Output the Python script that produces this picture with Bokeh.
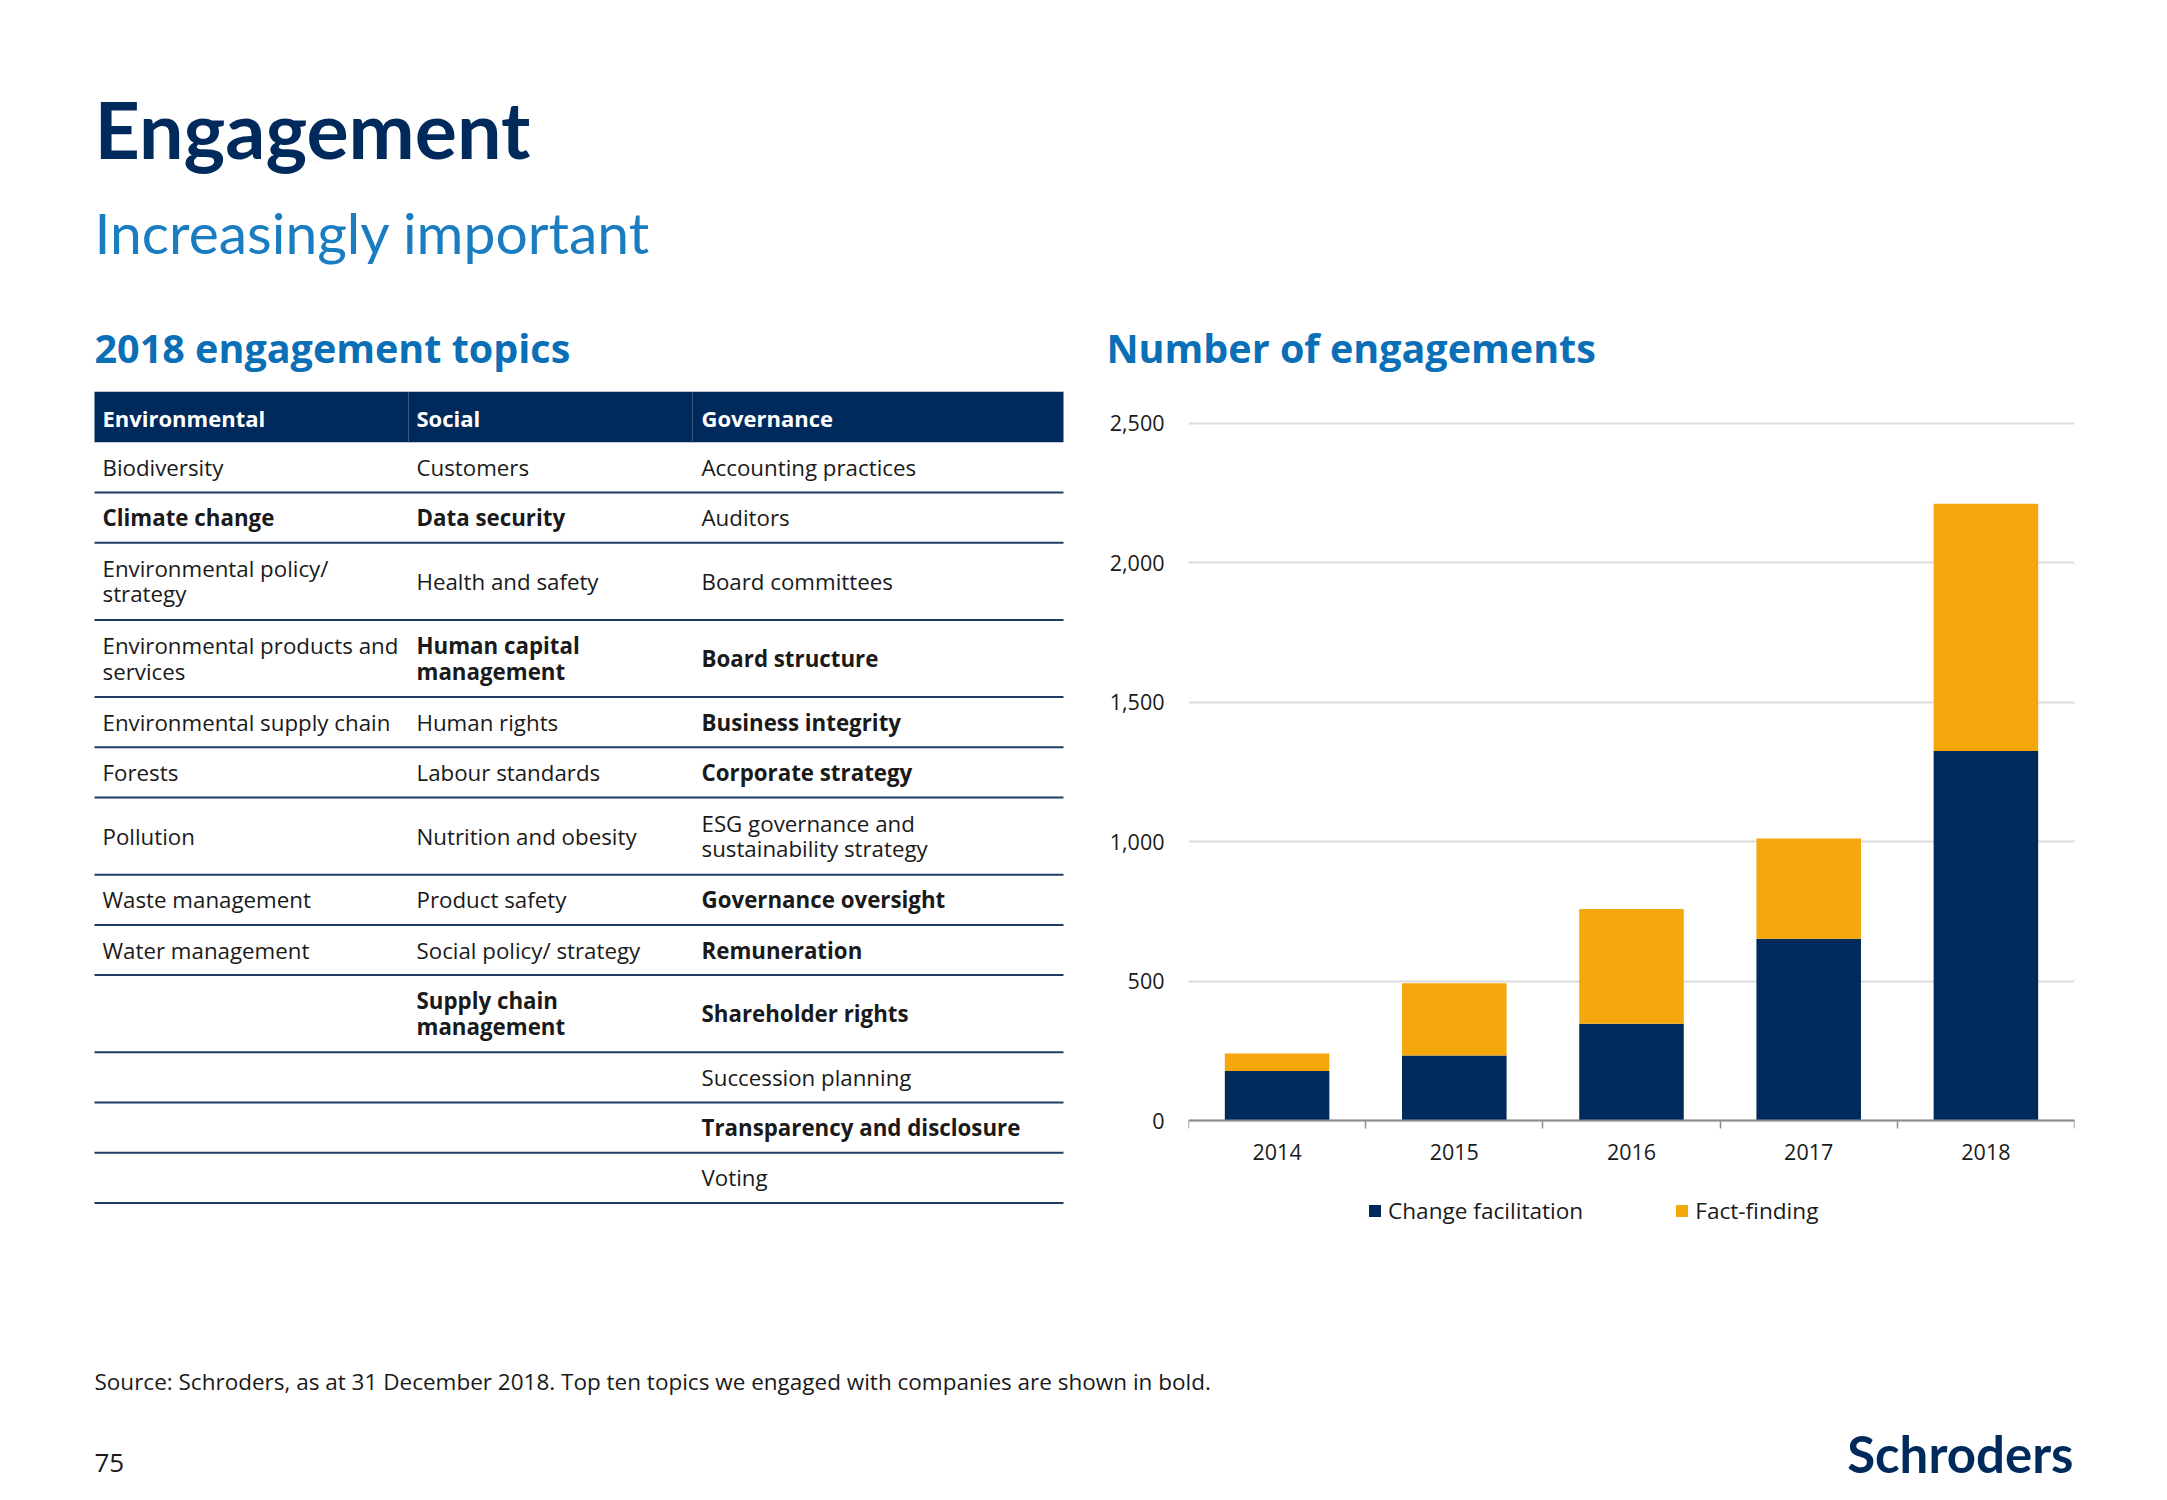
from bokeh.plotting import figure
from bokeh.layouts import column, row
from bokeh.models import (ColumnDataSource, Range1d, FixedTicker, NumeralTickFormatter,
                          Legend, LegendItem)
from bokeh.core.properties import value, field
from bokeh.embed import file_html
from bokeh.resources import INLINE

# ---------------- data ----------------
years = ["2014", "2015", "2016", "2017", "2018"]
change_facilitation = [177, 233, 347, 651, 1324]
fact_finding = [63, 259, 411, 360, 887]
y_ticks = [0, 500, 1000, 1500, 2000, 2500]
series_names = ["Change facilitation", "Fact-finding"]

table_headers = ["Environmental", "Social", "Governance"]
environmental = ["Biodiversity", "Climate change", "Environmental policy/\nstrategy",
                 "Environmental products and\nservices", "Environmental supply chain", "Forests",
                 "Pollution", "Waste management", "Water management", "", "", "", ""]
social = ["Customers", "Data security", "Health and safety", "Human capital\nmanagement",
          "Human rights", "Labour standards", "Nutrition and obesity", "Product safety",
          "Social policy/ strategy", "Supply chain\nmanagement", "", "", ""]
governance = ["Accounting practices", "Auditors", "Board committees", "Board structure",
              "Business integrity", "Corporate strategy", "ESG governance and\nsustainability strategy",
              "Governance oversight", "Remuneration", "Shareholder rights", "Succession planning",
              "Transparency and disclosure", "Voting"]
bold_topics = ["Climate change", "Data security", "Human capital\nmanagement", "Board structure",
               "Business integrity", "Corporate strategy", "Governance oversight", "Remuneration",
               "Supply chain\nmanagement", "Shareholder rights", "Transparency and disclosure"]

title_text = "Engagement"
subtitle_text = "Increasingly important"
left_heading = "2018 engagement topics"
right_heading = "Number of engagements"
source_text = "Source: Schroders, as at 31 December 2018. Top ten topics we engaged with companies are shown in bold."
page_number = "75"
logo_text = "Schroders"

# ---------------- styles / layout ----------------
NAVY = "#002a5c"
ORANGE = "#f5a80c"
BLUE = "#0a6fb6"
BLUE_LIGHT = "#1a7cc1"
TEXT = "#1a1a1a"
AXIS_GRAY = "#8c8c8c"
GRID_GRAY = "#dcdcdc"
RULE = "#203c63"
BODY_FONT = value("Open Sans")
HEAD_FONT = value("Lato")

PAGE_W = 2160
HEAD_H = 380
MID_TOP, MID_BOT = 380, 1240
FOOT_BOT = 1490


def blank(width, x0, x1, y_top, y_bottom):
    f = figure(width=width, height=int(y_bottom - y_top), x_range=Range1d(x0, x1),
               y_range=Range1d(y_bottom, y_top), title=None,
               output_backend="svg", toolbar_location=None, x_axis_type=None, y_axis_type=None,
               min_border=0, min_border_left=0, min_border_right=0, min_border_top=0, min_border_bottom=0)
    f.outline_line_color = None
    f.grid.visible = False
    return f


# ---------------- header ----------------
header = blank(PAGE_W, 0, PAGE_W, 0, HEAD_H)
header.text(x=[94], y=[127.5], text=[title_text], text_font=HEAD_FONT, text_font_size="79px",
            text_font_style="bold", text_color=NAVY, text_baseline="middle")
header.text(x=[94], y=[231], text=[subtitle_text], text_font=HEAD_FONT, text_font_size="57px",
            text_color=BLUE_LIGHT, text_baseline="middle")
header.text(x=[94, 1106], y=[347, 347], text=[left_heading, right_heading], text_font=BODY_FONT,
            text_font_size="39.5px", text_font_style="bold", text_color=BLUE, text_baseline="middle")

# ---------------- table ----------------
TAB_W = 1090
table = blank(TAB_W, 0, TAB_W, MID_TOP, MID_BOT)
tx0, tx1 = 94, 1063
col_x = [102, 416, 701]
sep_x = [408, 692]
top = 391.3
head_h = 50.5
single_h, double_h = 50.2, 77.2

table.quad(left=[tx0], right=[tx1], top=[top], bottom=[top + head_h], fill_color=NAVY, line_color=None)
table.segment(x0=sep_x, x1=sep_x, y0=[top] * 2, y1=[top + head_h] * 2, line_color="#3d5a84", line_width=1)
table.text(x=col_x, y=[top + head_h / 2 + 1] * 3, text=table_headers, text_font=BODY_FONT,
           text_font_size="22px", text_font_style="bold", text_color="white", text_baseline="middle")

cells = dict(x=[], y=[], text=[], style=[])
line_y = []
y = top + head_h
for e, s, g in zip(environmental, social, governance):
    h = double_h if any("\n" in c for c in (e, s, g)) else single_h
    for cx, c in zip(col_x, (e, s, g)):
        if c:
            cells["x"].append(cx)
            cells["y"].append(y + h / 2)
            cells["text"].append(c)
            cells["style"].append("bold" if c in bold_topics else "normal")
    y += h
    line_y.append(y)

table.text(x="x", y="y", text="text", source=ColumnDataSource(cells), text_font=BODY_FONT,
           text_font_size="22.3px", text_font_style=field("style"), text_color=TEXT,
           text_baseline="middle", text_line_height=0.82)
table.segment(x0=[tx0] * len(line_y), x1=[tx1] * len(line_y), y0=line_y, y1=line_y,
              line_color=RULE, line_width=2)

# ---------------- chart ----------------
CH_X0 = TAB_W
FRAME_L, FRAME_R = 1188, 2074
AXIS_PX, TOP_TICK_PX = 1120, 422.5          # pixel rows of value 0 and of the top tick
k = (AXIS_PX - TOP_TICK_PX) / y_ticks[-1]    # px per unit
y_lo = -(MID_BOT - AXIS_PX) / k
y_hi = (AXIS_PX - MID_TOP) / k

n = len(years)
centers = [i + 0.5 for i in range(n)]
src = ColumnDataSource(dict(x=centers, year=years, cf=change_facilitation, ff=fact_finding))

p = figure(width=PAGE_W - CH_X0, height=MID_BOT - MID_TOP, x_range=Range1d(0, n),
           y_range=Range1d(y_lo, y_hi), title=None,
           output_backend="svg", toolbar_location=None,
           min_border_left=FRAME_L - CH_X0, min_border_right=PAGE_W - FRAME_R,
           min_border_top=0, min_border_bottom=0)
p.outline_line_color = None
rs = p.vbar_stack(["cf", "ff"], x="x", width=0.59, color=[NAVY, ORANGE], line_color=None, source=src)

yt = FixedTicker(ticks=y_ticks)
p.yaxis.ticker = yt
p.ygrid.ticker = yt
p.ygrid.grid_line_color = GRID_GRAY
p.ygrid.grid_line_width = 2
p.xgrid.visible = False
p.yaxis.formatter = NumeralTickFormatter(format="0,0")
p.yaxis.axis_line_color = None
p.yaxis.major_tick_line_color = None
p.yaxis.minor_tick_line_color = None
p.yaxis.major_tick_out = 0
p.yaxis.major_label_standoff = 24
p.yaxis.major_label_text_font = "Open Sans"
p.yaxis.major_label_text_font_size = "21.5px"
p.yaxis.major_label_text_color = TEXT

p.xaxis.fixed_location = 0
p.xaxis.ticker = FixedTicker(ticks=centers, minor_ticks=list(range(n + 1)))
p.xaxis.major_label_overrides = {c: yr for c, yr in zip(centers, years)}
p.xaxis.major_tick_line_color = None
p.xaxis.major_tick_out = 0
p.xaxis.major_tick_in = 0
p.xaxis.minor_tick_in = 0
p.xaxis.minor_tick_out = 8
p.xaxis.minor_tick_line_color = AXIS_GRAY
p.xaxis.minor_tick_line_width = 1.5
p.xaxis.axis_line_color = AXIS_GRAY
p.xaxis.axis_line_width = 2
p.xaxis.major_label_standoff = 15
p.xaxis.major_label_text_font = "Open Sans"
p.xaxis.major_label_text_font_size = "21.5px"
p.xaxis.major_label_text_color = TEXT

legend = Legend(items=[LegendItem(label=series_names[0], renderers=[rs[0]]),
                       LegendItem(label=series_names[1], renderers=[rs[1]])],
                orientation="horizontal", location=(1367 - FRAME_L, 14), padding=0, margin=0, spacing=91,
                label_standoff=6, glyph_width=15, glyph_height=15,
                label_text_font="Open Sans", label_text_font_size="22.6px", label_text_color=TEXT,
                border_line_color=None, background_fill_alpha=0)
p.add_layout(legend, "center")

# ---------------- footer ----------------
footer = blank(PAGE_W, 0, PAGE_W, MID_BOT, FOOT_BOT)
footer.text(x=[94], y=[1381], text=[source_text], text_font=BODY_FONT, text_font_size="22.5px",
            text_color=TEXT, text_baseline="middle")
footer.text(x=[94], y=[1462], text=[page_number], text_font=BODY_FONT, text_font_size="26px",
            text_color=TEXT, text_baseline="middle")
footer.text(x=[2073], y=[1453], text=[logo_text], text_font=HEAD_FONT, text_font_size="51px",
            text_font_style="bold", text_color=NAVY, text_baseline="middle", text_align="right")

page = column(header, row(table, p, spacing=0), footer, spacing=0)
open("out.html", "w").write(file_html(page, INLINE))
